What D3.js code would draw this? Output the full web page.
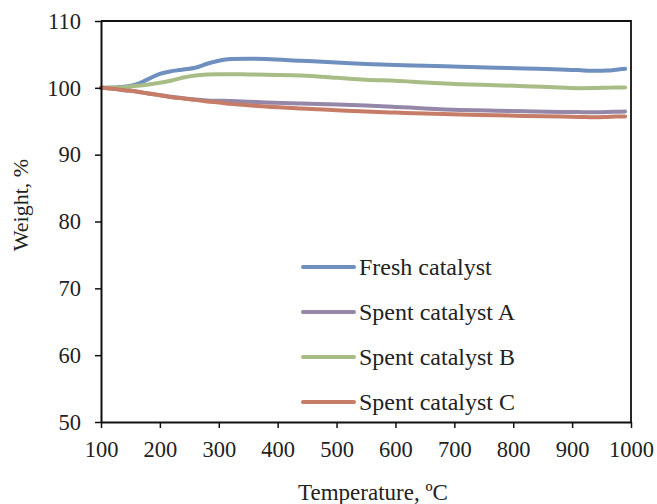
<!DOCTYPE html>
<html>
<head>
<meta charset="utf-8">
<script src="https://cdn.jsdelivr.net/npm/d3@7"></script>
<style>
  html, body { margin: 0; padding: 0; background: #fff; }
  svg { display: block; font-family: "Liberation Serif", "DejaVu Serif", serif; }
</style>
</head>
<body>
<svg id="chart" width="657" height="504"></svg>
<script>
// Thermogravimetric curves: sample weight (%) vs temperature (ºC)
const temperature = [100,120,140,160,180,200,220,240,260,280,300,320,350,380,440,500,550,600,650,710,770,820,880,910,940,960,975,990];

const freshCatalyst = [100,100.05,100.15,100.5,101.3,102.1,102.5,102.75,103.0,103.6,104.05,104.3,104.35,104.3,104.05,103.8,103.58,103.4,103.3,103.15,103.02,102.9,102.75,102.65,102.55,102.58,102.7,102.85];
const spentA = [100,99.85,99.65,99.45,99.15,98.9,98.65,98.45,98.25,98.12,98.07,98.02,97.93,97.82,97.65,97.5,97.35,97.15,96.92,96.7,96.58,96.5,96.4,96.37,96.35,96.38,96.42,96.45];
const spentB = [100,100.02,100.1,100.3,100.5,100.75,101.1,101.55,101.85,102.0,102.05,102.05,102.0,101.95,101.85,101.5,101.2,101.05,100.8,100.55,100.4,100.25,100.05,99.95,99.97,100.02,100.05,100.05];
const spentC = [100,99.85,99.65,99.45,99.15,98.9,98.6,98.4,98.2,97.95,97.8,97.6,97.4,97.2,96.9,96.65,96.45,96.3,96.15,96.0,95.9,95.8,95.7,95.65,95.6,95.65,95.7,95.7];

const seriesNames = ["Fresh catalyst", "Spent catalyst A", "Spent catalyst B", "Spent catalyst C"];
const seriesValues = [freshCatalyst, spentA, spentB, spentC];
const seriesColors = ["#6f8fbf", "#9487a7", "#a8bc86", "#c67c66"];

const xTicks = [100,200,300,400,500,600,700,800,900,1000];
const yTicks = [50,60,70,80,90,100,110];

const svg = d3.select("#chart");
const plotLeft = 101, plotRight = 631, plotTop = 21, plotBottom = 422;

const x = d3.scaleLinear().domain([100, 1000]).range([plotLeft, plotRight]);
const y = d3.scaleLinear().domain([50, 110]).range([plotBottom, plotTop]);

// frame: top and right edges
svg.append("path")
  .attr("d", `M${plotLeft},${plotTop}H${plotRight}V${plotBottom}`)
  .attr("fill", "none").attr("stroke", "#111").attr("stroke-width", 1.8);

// curves
const line = d3.line()
  .x((d, i) => x(temperature[i]))
  .y(d => y(d))
  .curve(d3.curveMonotoneX);

seriesValues.forEach((vals, k) => {
  svg.append("path")
    .datum(vals)
    .attr("d", line)
    .attr("fill", "none")
    .attr("stroke", seriesColors[k])
    .attr("stroke-width", 4)
    .attr("stroke-linejoin", "round")
    .attr("stroke-linecap", "round");
});

// axes
const fmt = d3.format("d");
const xAxis = svg.append("g")
  .attr("transform", `translate(0,${plotBottom})`)
  .call(d3.axisBottom(x).tickValues(xTicks).tickFormat(fmt).tickSize(6).tickPadding(13).tickSizeOuter(0));
const yAxis = svg.append("g")
  .attr("transform", `translate(${plotLeft},0)`)
  .call(d3.axisLeft(y).tickValues(yTicks).tickFormat(fmt).tickSize(6).tickPadding(14).tickSizeOuter(0));

[xAxis, yAxis].forEach(g => {
  g.select(".domain").attr("stroke", "#111").attr("stroke-width", 2);
  g.selectAll(".tick line").attr("stroke", "#111").attr("stroke-width", 1.5);
  g.selectAll(".tick text")
    .attr("fill", "#222")
    .style("font-family", "'Liberation Serif', serif")
    .style("font-size", "22.5px");
});

// axis titles
svg.append("text")
  .attr("x", 373).attr("y", 500)
  .attr("text-anchor", "middle")
  .attr("fill", "#222")
  .style("font-size", "23px")
  .text("Temperature, ºC");

svg.append("text")
  .attr("transform", "translate(28,205) rotate(-90)")
  .attr("text-anchor", "middle")
  .attr("fill", "#222")
  .style("font-size", "22px")
  .text("Weight, %");

// legend
const legend = svg.append("g");
seriesNames.forEach((name, k) => {
  const ly = 267 + k * 45;
  legend.append("line")
    .attr("x1", 303).attr("x2", 354).attr("y1", ly).attr("y2", ly)
    .attr("stroke", seriesColors[k]).attr("stroke-width", 4)
    .attr("stroke-linecap", "round");
  legend.append("text")
    .attr("x", 359).attr("y", ly).attr("dy", "0.35em")
    .attr("fill", "#222")
    .style("font-size", "24px")
    .text(name);
});
</script>
</body>
</html>
